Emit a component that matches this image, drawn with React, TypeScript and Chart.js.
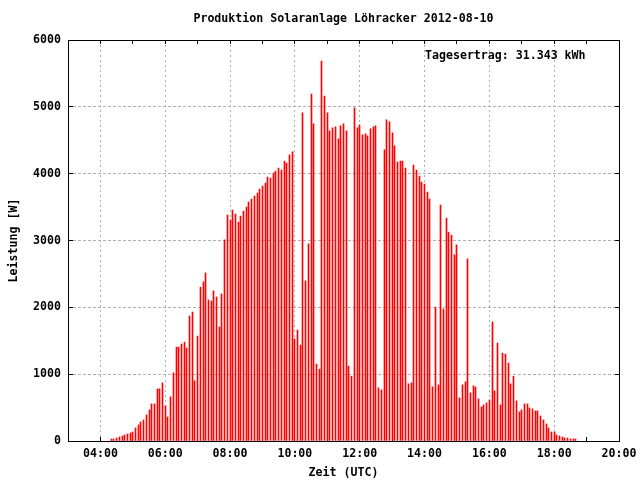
import React, { useEffect, useRef } from "react";
import { Chart, registerables } from "chart.js";

Chart.register(...registerables);

const chartTitle = "Produktion Solaranlage Löhracker 2012-08-10";
const yieldLabel = "Tagesertrag: 31.343 kWh";
const xAxisTitle = "Zeit (UTC)";
const yAxisTitle = "Leistung [W]";

// sample times (UTC, 5-minute readings)
const times = [
  "04:20", "04:25", "04:30", "04:35", "04:40", "04:45", "04:50", "04:55",
  "05:00", "05:05", "05:10", "05:15", "05:20", "05:25", "05:30", "05:35", "05:40", "05:45", "05:50", "05:55",
  "06:00", "06:05", "06:10", "06:15", "06:20", "06:25", "06:30", "06:35", "06:40", "06:45", "06:50", "06:55",
  "07:00", "07:05", "07:10", "07:15", "07:20", "07:25", "07:30", "07:35", "07:40", "07:45", "07:50", "07:55",
  "08:00", "08:05", "08:10", "08:15", "08:20", "08:25", "08:30", "08:35", "08:40", "08:45", "08:50", "08:55",
  "09:00", "09:05", "09:10", "09:15", "09:20", "09:25", "09:30", "09:35", "09:40", "09:45", "09:50", "09:55",
  "10:00", "10:05", "10:10", "10:15", "10:20", "10:25", "10:30", "10:35", "10:40", "10:45", "10:50", "10:55",
  "11:00", "11:05", "11:10", "11:15", "11:20", "11:25", "11:30", "11:35", "11:40", "11:45", "11:50", "11:55",
  "12:00", "12:05", "12:10", "12:15", "12:20", "12:25", "12:30", "12:35", "12:40", "12:45", "12:50", "12:55",
  "13:00", "13:05", "13:10", "13:15", "13:20", "13:25", "13:30", "13:35", "13:40", "13:45", "13:50", "13:55",
  "14:00", "14:05", "14:10", "14:15", "14:20", "14:25", "14:30", "14:35", "14:40", "14:45", "14:50", "14:55",
  "15:00", "15:05", "15:10", "15:15", "15:20", "15:25", "15:30", "15:35", "15:40", "15:45", "15:50", "15:55",
  "16:00", "16:05", "16:10", "16:15", "16:20", "16:25", "16:30", "16:35", "16:40", "16:45", "16:50", "16:55",
  "17:00", "17:05", "17:10", "17:15", "17:20", "17:25", "17:30", "17:35", "17:40", "17:45", "17:50", "17:55",
  "18:00", "18:05", "18:10", "18:15", "18:20", "18:25", "18:30", "18:35", "18:40",
];

// power in W
const power = [
  30, 30, 45, 60, 75, 90, 105, 120,
  135, 195, 240, 285, 315, 390, 465, 555, 555, 780, 780, 870,
  525, 360, 660, 1020, 1405, 1405, 1450, 1480, 1390, 1870, 1930, 900,
  1570, 2300, 2380, 2515, 2110, 2095, 2245, 2155, 1705, 2200, 3010, 3380,
  3305, 3455, 3395, 3275, 3365, 3440, 3500, 3575, 3620, 3665, 3710, 3770,
  3815, 3860, 3950, 3935, 4010, 4040, 4085, 4055, 4190, 4160, 4280, 4325,
  1525, 1660, 1435, 4910, 2395, 2950, 5190, 4745, 1150, 1075, 5685, 5160,
  4910, 4640, 4685, 4700, 4520, 4715, 4745, 4640, 1120, 970, 4985, 4685,
  4730, 4580, 4595, 4565, 4670, 4700, 4715, 795, 765, 4355, 4805, 4775,
  4610, 4415, 4175, 4190, 4190, 4085, 855, 870, 4130, 4055, 3965, 3875,
  3845, 3725, 3620, 810, 2005, 840, 3530, 1975, 3335, 3125, 3080, 2785,
  2935, 645, 840, 885, 2725, 720, 825, 810, 630, 510, 540, 570,
  615, 1780, 750, 1465, 540, 1315, 1300, 1165, 855, 970, 600, 435,
  465, 555, 555, 495, 480, 450, 450, 375, 315, 255, 195, 135,
  135, 90, 75, 60, 45, 45, 30, 30, 30,
];

const xTickHours = [4, 6, 8, 10, 12, 14, 16, 18, 20];
const xTickLabels = ["04:00", "06:00", "08:00", "10:00", "12:00", "14:00", "16:00", "18:00", "20:00"];
const xMinorTickHours = [3, 4, 5, 6, 7, 8, 9, 10, 11, 12, 13, 14, 15, 16, 17, 18, 19, 20];
const yTickValues = [0, 1000, 2000, 3000, 4000, 5000, 6000];
const yTickLabels = ["0", "1000", "2000", "3000", "4000", "5000", "6000"];

const FONT_FAMILY = '"DejaVu Sans Mono", "Liberation Mono", monospace';
const FONT_SIZE = 11.6;

const toHours = (t: string) => {
  const [h, m] = t.split(":");
  return parseInt(h, 10) + parseInt(m, 10) / 60;
};

const framePlugin = {
  id: "gnuFrame",
  afterDatasetsUpdate(chart: any) {
    // snap each impulse to a whole pixel column so it stays a crisp 1px line
    chart.getSortedVisibleDatasetMetas().forEach((meta: any) => {
      meta.data.forEach((el: any) => {
        el.x = Math.round(el.x - 0.5) + 0.5;
      });
    });
  },
  beforeDatasetsDraw(chart: any) {
    const { ctx, chartArea: a, scales } = chart;
    const x = scales.x;
    const y = scales.y;
    ctx.save();
    ctx.fillStyle = "#000000";
    const tl = 4;
    xMinorTickHours.forEach((h) => {
      const px = Math.round(x.getPixelForValue(h) - 0.5);
      ctx.fillRect(px, a.bottom - tl, 1, tl);
      ctx.fillRect(px, a.top, 1, tl);
    });
    yTickValues.forEach((v) => {
      const py = Math.round(y.getPixelForValue(v) - 0.5);
      ctx.fillRect(a.left, py, tl + 1, 1);
      ctx.fillRect(a.right - tl, py, tl, 1);
    });
    ctx.restore();
  },
  afterDatasetsDraw(chart: any) {
    const { ctx, chartArea: a } = chart;
    ctx.save();
    ctx.fillStyle = "#000000";
    const w = a.right - a.left + 1;
    const h = a.bottom - a.top + 1;
    ctx.fillRect(a.left, a.top, w, 1);
    ctx.fillRect(a.left, a.bottom, w, 1);
    ctx.fillRect(a.left, a.top, 1, h);
    ctx.fillRect(a.right, a.top, 1, h);
    ctx.font = `bold ${FONT_SIZE}px ${FONT_FAMILY}`;
    ctx.textBaseline = "middle";
    ctx.textAlign = "center";
    ctx.fillText(chartTitle, (a.left + a.right) / 2, 19);
    ctx.textAlign = "left";
    ctx.fillText(yieldLabel, 425, 56);
    ctx.restore();
  },
};

export default function App() {
  const canvasRef = useRef<HTMLCanvasElement | null>(null);

  useEffect(() => {
    if (!canvasRef.current) return;
    const font = { family: FONT_FAMILY, size: FONT_SIZE, weight: "bold" as const };
    const chart = new Chart(canvasRef.current, {
      type: "bar",
      data: {
        datasets: [
          {
            label: "Leistung",
            data: times.map((t, i) => ({ x: toHours(t), y: power[i] })),
            backgroundColor: "#ff0000",
            borderWidth: 0,
            barThickness: 1,
          },
        ],
      },
      options: {
        animation: false,
        responsive: false,
        devicePixelRatio: 1,
        layout: { padding: { top: 40, right: 21, bottom: 0, left: 0 } },
        plugins: {
          legend: { display: false },
          title: { display: false },
          tooltip: { enabled: false },
        },
        scales: {
          x: {
            type: "linear",
            min: 3,
            max: 20,
            offset: false,
            afterBuildTicks: (s: any) => {
              s.ticks = xTickHours.map((v) => ({ value: v }));
            },
            afterFit: (s: any) => {
              s.height = 39;
              s.paddingLeft = 0;
              s.paddingRight = 0;
            },
            ticks: {
              autoSkip: false,
              maxRotation: 0,
              minRotation: 0,
              padding: 6,
              color: "#000000",
              font,
              callback: (v: any) => {
                const i = xTickHours.indexOf(Number(v));
                return i >= 0 ? xTickLabels[i] : "";
              },
            },
            grid: { color: "#b0b0b0", lineWidth: 1, drawTicks: false, offset: false },
            border: { display: false, dash: [2, 3] },
            title: {
              display: true,
              text: xAxisTitle,
              color: "#000000",
              font,
              padding: { top: 0, bottom: 0 },
            },
          },
          y: {
            min: 0,
            max: 6000,
            afterBuildTicks: (s: any) => {
              s.ticks = yTickValues.map((v) => ({ value: v }));
            },
            afterFit: (s: any) => {
              s.width = 68;
              s.paddingTop = 0;
              s.paddingBottom = 0;
            },
            ticks: {
              padding: 7,
              color: "#000000",
              font,
              callback: (v: any) => {
                const i = yTickValues.indexOf(Number(v));
                return i >= 0 ? yTickLabels[i] : "";
              },
            },
            grid: { color: "#b0b0b0", lineWidth: 1, drawTicks: false },
            border: { display: false, dash: [3, 2] },
            title: {
              display: true,
              text: yAxisTitle,
              color: "#000000",
              font,
              padding: { top: 7, bottom: 0 },
            },
          },
        },
      },
      plugins: [framePlugin],
    });
    return () => chart.destroy();
  }, []);

  return (
    <div style={{ position: "absolute", left: 0, top: 0, width: 640, height: 480, background: "#ffffff" }}>
      <canvas ref={canvasRef} width={640} height={480} />
    </div>
  );
}
